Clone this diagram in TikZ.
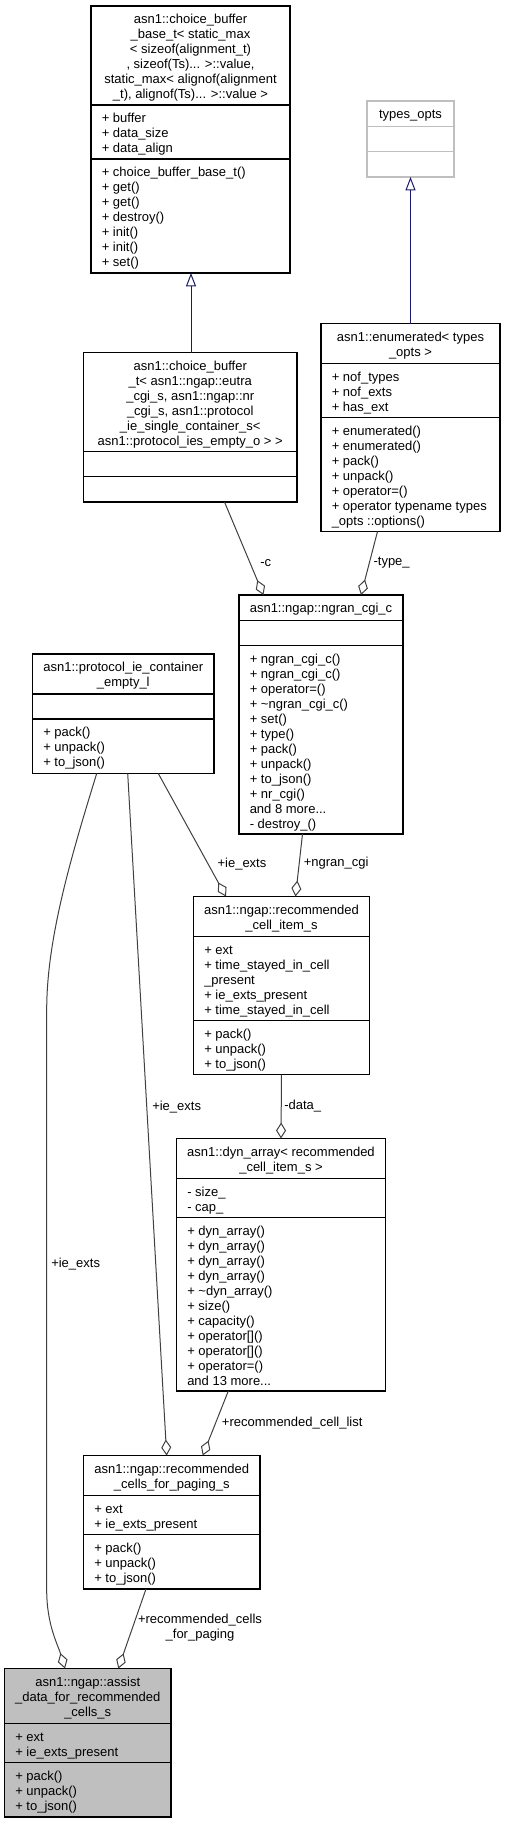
\documentclass[tikz,border=0pt]{standalone}
\usepackage{fontspec}
\setmainfont{Liberation Sans}
\usetikzlibrary{arrows.meta,calc,fit}
\definecolor{edgegray}{HTML}{404040}
\definecolor{inhblue}{HTML}{191970}
\definecolor{boxgray}{HTML}{BFBFBF}
\newcommand{\fl}{\rule{0pt}{8pt}}
\tikzset{
  cbox/.style={draw=black, line width=0.8pt, inner sep=0pt, outer sep=0pt, rectangle},
  sepl/.style={draw=black, line width=0.8pt},
  ttl/.style={anchor=north, inner sep=0pt, align=center, font=\fontsize{9.75pt}{11.25pt}\selectfont},
  mem/.style={anchor=north west, inner sep=0pt, align=left, font=\fontsize{9.75pt}{11.25pt}\selectfont},
  agg/.style={draw=edgegray, line width=0.75pt, -{Diamond[open, length=12pt, width=7.5pt]}},
  inh/.style={draw=inhblue, line width=0.75pt, -{Triangle[open, length=10pt, width=7.5pt]}},
  elab/.style={anchor=west, inner sep=0pt, font=\fontsize{9.75pt}{11.25pt}\selectfont},
}
\begin{document}
\begin{tikzpicture}[x=0.75pt,y=-0.75pt]
\useasboundingbox (0,0) rectangle (505,1824);

% ---------- b1: choice_buffer_base_t
\node[cbox, fit={(91,6)(290,273)}] (b1) {};
\draw[sepl] ($(b1.north west)+(0,99)$) -- ($(b1.north east)+(0,99)$);
\draw[sepl] ($(b1.north west)+(0,153)$) -- ($(b1.north east)+(0,153)$);
\node[ttl] (b1t) at ($(b1.north)+(0,7)$) {\fl asn1::choice\_buffer\\\_base\_t< static\_max\\< sizeof(alignment\_t)\\, sizeof(Ts)... >::value,\\ static\_max< alignof(alignment\\\_t), alignof(Ts)... >::value >};
\node[mem] (b1a) at ($(b1.north west)+(10.5,106)$) {\fl + buffer\\+ data\_size\\+ data\_align};
\node[mem] (b1m) at ($(b1.north west)+(10.5,160)$) {\fl + choice\_buffer\_base\_t()\\+ get()\\+ get()\\+ destroy()\\+ init()\\+ init()\\+ set()};

% ---------- b2: types_opts
\node[cbox, draw=boxgray, fit={(367,101)(454,177)}] (b2) {};
\draw[sepl, draw=boxgray] ($(b2.north west)+(0,25.5)$) -- ($(b2.north east)+(0,25.5)$);
\draw[sepl, draw=boxgray] ($(b2.north west)+(0,50.5)$) -- ($(b2.north east)+(0,50.5)$);
\node[ttl] (b2t) at ($(b2.north)+(0,7)$) {\fl types\_opts};

% ---------- b3: enumerated
\node[cbox, fit={(321,323.5)(500,531.5)}] (b3) {};
\draw[sepl] ($(b3.north west)+(0,40)$) -- ($(b3.north east)+(0,40)$);
\draw[sepl] ($(b3.north west)+(0,94)$) -- ($(b3.north east)+(0,94)$);
\node[ttl] (b3t) at ($(b3.north)+(0,7)$) {\fl asn1::enumerated< types\\\_opts >};
\node[mem] (b3a) at ($(b3.north west)+(10.5,47)$) {\fl + nof\_types\\+ nof\_exts\\+ has\_ext};
\node[mem] (b3m) at ($(b3.north west)+(10.5,101)$) {\fl + enumerated()\\+ enumerated()\\+ pack()\\+ unpack()\\+ operator=()\\+ operator typename types\\\_opts ::options()};

% ---------- b4: choice_buffer_t
\node[cbox, fit={(83.5,352.5)(297,502)}] (b4) {};
\draw[sepl] ($(b4.north west)+(0,99)$) -- ($(b4.north east)+(0,99)$);
\draw[sepl] ($(b4.north west)+(0,124)$) -- ($(b4.north east)+(0,124)$);
\node[ttl] (b4t) at ($(b4.north)+(0,7)$) {\fl asn1::choice\_buffer\\\_t< asn1::ngap::eutra\\\_cgi\_s, asn1::ngap::nr\\\_cgi\_s, asn1::protocol\\\_ie\_single\_container\_s<\\ asn1::protocol\_ies\_empty\_o > >};

% ---------- b5: protocol_ie_container_empty_l
\node[cbox, fit={(32.5,654)(214,773.5)}] (b5) {};
\draw[sepl] ($(b5.north west)+(0,40)$) -- ($(b5.north east)+(0,40)$);
\draw[sepl] ($(b5.north west)+(0,65)$) -- ($(b5.north east)+(0,65)$);
\node[ttl] (b5t) at ($(b5.north)+(0,7)$) {\fl asn1::protocol\_ie\_container\\\_empty\_l};
\node[mem] (b5m) at ($(b5.north west)+(10.5,72)$) {\fl + pack()\\+ unpack()\\+ to\_json()};

% ---------- b6: ngran_cgi_c
\node[cbox, fit={(239,595)(403,834)}] (b6) {};
\draw[sepl] ($(b6.north west)+(0,25.5)$) -- ($(b6.north east)+(0,25.5)$);
\draw[sepl] ($(b6.north west)+(0,50.5)$) -- ($(b6.north east)+(0,50.5)$);
\node[ttl] (b6t) at ($(b6.north)+(0,7)$) {\fl asn1::ngap::ngran\_cgi\_c};
\node[mem] (b6m) at ($(b6.north west)+(10.5,57.5)$) {\fl + ngran\_cgi\_c()\\+ ngran\_cgi\_c()\\+ operator=()\\+ \textasciitilde ngran\_cgi\_c()\\+ set()\\+ type()\\+ pack()\\+ unpack()\\+ to\_json()\\+ nr\_cgi()\\and 8 more...\\- destroy\_()};

% ---------- b7: recommended_cell_item_s
\node[cbox, fit={(193.5,896.5)(369.5,1074.5)}] (b7) {};
\draw[sepl] ($(b7.north west)+(0,40)$) -- ($(b7.north east)+(0,40)$);
\draw[sepl] ($(b7.north west)+(0,124)$) -- ($(b7.north east)+(0,124)$);
\node[ttl] (b7t) at ($(b7.north)+(0,7)$) {\fl asn1::ngap::recommended\\\_cell\_item\_s};
\node[mem] (b7a) at ($(b7.north west)+(10.5,47)$) {\fl + ext\\+ time\_stayed\_in\_cell\\\_present\\+ ie\_exts\_present\\+ time\_stayed\_in\_cell};
\node[mem] (b7m) at ($(b7.north west)+(10.5,131)$) {\fl + pack()\\+ unpack()\\+ to\_json()};

% ---------- b8: dyn_array
\node[cbox, fit={(176.5,1138.5)(385.5,1391)}] (b8) {};
\draw[sepl] ($(b8.north west)+(0,40)$) -- ($(b8.north east)+(0,40)$);
\draw[sepl] ($(b8.north west)+(0,79)$) -- ($(b8.north east)+(0,79)$);
\node[ttl] (b8t) at ($(b8.north)+(0,7)$) {\fl asn1::dyn\_array< recommended\\\_cell\_item\_s >};
\node[mem] (b8a) at ($(b8.north west)+(10.5,47)$) {\fl - size\_\\- cap\_};
\node[mem] (b8m) at ($(b8.north west)+(10.5,86)$) {\fl + dyn\_array()\\+ dyn\_array()\\+ dyn\_array()\\+ dyn\_array()\\+ \textasciitilde dyn\_array()\\+ size()\\+ capacity()\\+ operator[]()\\+ operator[]()\\+ operator=()\\and 13 more...};

% ---------- b9: recommended_cells_for_paging_s
\node[cbox, fit={(83.5,1455.5)(260,1589)}] (b9) {};
\draw[sepl] ($(b9.north west)+(0,40)$) -- ($(b9.north east)+(0,40)$);
\draw[sepl] ($(b9.north west)+(0,79)$) -- ($(b9.north east)+(0,79)$);
\node[ttl] (b9t) at ($(b9.north)+(0,7)$) {\fl asn1::ngap::recommended\\\_cells\_for\_paging\_s};
\node[mem] (b9a) at ($(b9.north west)+(10.5,47)$) {\fl + ext\\+ ie\_exts\_present};
\node[mem] (b9m) at ($(b9.north west)+(10.5,86)$) {\fl + pack()\\+ unpack()\\+ to\_json()};

% ---------- b10: assist_data_for_recommended_cells_s
\node[cbox, fill=boxgray, fit={(4.5,1668.5)(171,1817)}] (b10) {};
\draw[sepl] ($(b10.north west)+(0,55)$) -- ($(b10.north east)+(0,55)$);
\draw[sepl] ($(b10.north west)+(0,94)$) -- ($(b10.north east)+(0,94)$);
\node[ttl] (b10t) at ($(b10.north)+(0,7)$) {\fl asn1::ngap::assist\\\_data\_for\_recommended\\\_cells\_s};
\node[mem] (b10a) at ($(b10.north west)+(10.5,62)$) {\fl + ext\\+ ie\_exts\_present};
\node[mem] (b10m) at ($(b10.north west)+(10.5,101)$) {\fl + pack()\\+ unpack()\\+ to\_json()};

% ---------- inheritance
\draw[inh] ($(b4.north west)+(107.5,0)$) -- ($(b1.south west)+(100,0)$);
\draw[inh] (b3.north) -- (b2.south);

% ---------- aggregation
\draw[agg] ($(b4.south west)+(141,0)$) -- ($(b6.north west)+(24.5,0)$);
\node[elab] (l1) at (260,563) {-c};
\draw[agg] ($(b3.south west)+(56.5,0)$) -- ($(b6.north west)+(122,0)$);
\node[elab] (l2) at (373.3,563) {-type\_};
\draw[agg] ($(b6.south west)+(63.5,0)$) -- ($(b7.north west)+(102,0)$);
\node[elab] (l3) at (303.5,863.5) {+ngran\_cgi};
\draw[agg] ($(b5.south west)+(125.8,0)$) -- ($(b7.north west)+(32.5,0)$);
\node[elab] (l4) at (217.3,864) {+ie\_exts};
\draw[agg] ($(b7.south west)+(88,0)$) -- ($(b8.north west)+(104.5,0)$);
\node[elab] (l5) at (284,1106.5) {-data\_};
\draw[agg] ($(b8.south west)+(51.8,0)$) -- ($(b9.north west)+(119.2,0)$);
\node[elab] (l6) at (221.7,1422.7) {+recommended\_cell\_list};
\draw[agg] ($(b5.south west)+(95.2,0)$) -- ($(b9.north west)+(83.2,0)$);
\node[elab] (l7) at (152,1106.7) {+ie\_exts};
\draw[agg] ($(b5.south west)+(64.2,0)$) .. controls (70,860) and (46.7,940) .. (46.7,1010)
  -- (46.7,1590) .. controls (46.7,1625) and (58,1645) .. ($(b10.north west)+(60.5,0)$);
\node[elab] (l8) at (51,1264) {+ie\_exts};
\draw[agg] ($(b9.south west)+(62.5,0)$) -- ($(b10.north west)+(113.8,0)$);
\node[elab, anchor=center, align=center] (l9) at (200,1628) {+recommended\_cells\\\_for\_paging};
\end{tikzpicture}
\end{document}
